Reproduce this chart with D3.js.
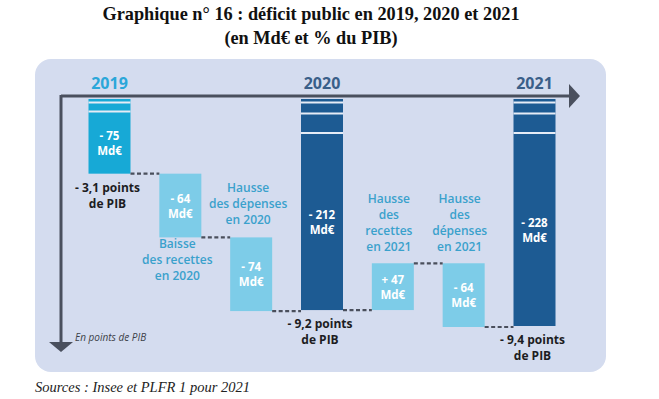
<!DOCTYPE html>
<html><head><meta charset="utf-8">
<script src="https://cdn.jsdelivr.net/npm/d3@7"></script>
<style>
html,body{margin:0;padding:0;background:#fff;}
svg{display:block;}
</style></head>
<body>
<svg id="c" width="659" height="399"></svg>
<script>
// ---- data ----
const categories = ["2019", "Baisse recettes 2020", "Hausse dépenses 2020", "2020", "Hausse recettes 2021", "Hausse dépenses 2021", "2021"];
const kinds = ["total", "step", "step", "total", "step", "step", "total"];
const values = [-75, -64, -74, -212, 47, -64, -228]; // Md€
const valueLabels = ["- 75", "- 64", "- 74", "- 212", "+ 47", "- 64", "- 228"];
const years = ["2019", "", "", "2020", "", "", "2021"];
const pibLabels = [["- 3,1 points", "de PIB"], null, null, ["- 9,2 points", "de PIB"], null, null, ["- 9,4 points", "de PIB"]];
const stepTexts = [
  { at: 1, lines: ["Baisse", "des recettes", "en 2020"] },
  { at: 2, lines: ["Hausse", "des dépenses", "en 2020"] },
  { at: 4, lines: ["Hausse", "des", "recettes", "en 2021"] },
  { at: 5, lines: ["Hausse", "des", "dépenses", "en 2021"] }
];
const title = ["Graphique n° 16 : déficit public en 2019, 2020 et 2021", "(en Md€ et % du PIB)"];
const source = "Sources : Insee et PLFR 1 pour 2021";
const axisNote = "En points de PIB";

// ---- compute waterfall ----
const bars = [];
let level = 0;
categories.forEach((c, i) => {
  if (kinds[i] === "total") {
    level = -values[i];
    bars.push({ i, c, y0: 0, y1: level, kind: "total" });
  } else {
    const prev = level;
    level = level - values[i];
    bars.push({ i, c, y0: Math.min(prev, level), y1: Math.max(prev, level), kind: "step", from: prev, to: level });
  }
});

const svg = d3.select("#c");
const sans = "'Open Sans', 'Noto Sans', sans-serif";
const serif = "'Liberation Serif', 'DejaVu Serif', serif";

// title
svg.selectAll("text.title").data(title).enter().append("text")
  .attr("x", 311).attr("y", (d, i) => 20 + i * 24)
  .attr("text-anchor", "middle").attr("font-family", serif)
  .attr("font-weight", "bold").attr("font-size", 18.3).attr("fill", "#111").text(d => d);

// panel
svg.append("rect").attr("x", 35).attr("y", 59).attr("width", 571).attr("height", 313)
  .attr("rx", 16).attr("fill", "#d4dcef");

// scales
const x = d3.scalePoint().domain(categories).range([109.5, 534.5]);
const y = d3.scaleLinear().domain([0, 228]).range([99, 326]);
const bw = 42;

const colorOf = (b) => b.kind === "step" ? "#7dcce8" : (b.i === 0 ? "#17a9d6" : "#1d5b93");

// bars
svg.selectAll("rect.bar").data(bars).enter().append("rect")
  .attr("x", d => x(d.c) - bw / 2).attr("width", bw)
  .attr("y", d => y(d.y0)).attr("height", d => y(d.y1) - y(d.y0))
  .attr("fill", colorOf);

// white stripes on total bars
bars.filter(b => b.kind === "total").forEach(b => {
  const offs = b.i === 0 ? [3.5, 12.5] : [3.5, 14.5, 34];
  offs.forEach(o => {
    svg.append("line").attr("x1", x(b.c) - bw / 2).attr("x2", x(b.c) + bw / 2)
      .attr("y1", y(0) + o).attr("y2", y(0) + o)
      .attr("stroke", "#e6ecf6").attr("stroke-width", 2);
  });
});

// connectors
for (let k = 0; k < bars.length - 1; k++) {
  const a = bars[k], b = bars[k + 1];
  const lv = a.kind === "total" ? a.y1 : a.to;
  svg.append("line")
    .attr("x1", x(a.c) + bw / 2).attr("x2", x(b.c) - bw / 2)
    .attr("y1", y(lv)).attr("y2", y(lv))
    .attr("stroke", "#4a4f5c").attr("stroke-width", 2.2).attr("stroke-dasharray", "4,2.5");
}

// axes (arrows)
const axisColor = "#4a505e";
svg.append("line").attr("x1", 61).attr("x2", 571).attr("y1", 96).attr("y2", 96)
  .attr("stroke", axisColor).attr("stroke-width", 3);
svg.append("path").attr("d", "M569,84 L580,96 L569,108 Z").attr("fill", axisColor);
svg.append("line").attr("x1", 61).attr("x2", 61).attr("y1", 95).attr("y2", 344)
  .attr("stroke", axisColor).attr("stroke-width", 3);
svg.append("path").attr("d", "M49,342 L61,352 L73,342 Z").attr("fill", axisColor);

svg.append("text").attr("x", 75).attr("y", 341).attr("font-family", sans)
  .attr("font-style", "italic").attr("font-size", 10).attr("fill", "#3c3f48").text(axisNote);

// year labels
svg.selectAll("text.year").data(bars.filter(b => years[b.i])).enter().append("text")
  .attr("x", d => x(d.c)).attr("y", 89).attr("text-anchor", "middle")
  .attr("font-family", sans).attr("font-weight", "bold").attr("font-size", 16)
  .attr("fill", d => d.i === 0 ? "#2ba7d9" : "#3a5f89").text(d => years[d.i]);

// value labels inside bars
bars.forEach(b => {
  let top = y(b.y0);
  const bot = y(b.y1);
  if (b.kind === "total") top += b.i === 0 ? 12.5 : 34;
  const cy = (top + bot) / 2;
  const g = svg.append("text").attr("text-anchor", "middle").attr("font-family", sans)
    .attr("font-weight", "bold").attr("font-size", 11.5).attr("fill", "#fff");
  g.append("tspan").attr("x", x(b.c)).attr("y", cy - 3).text(valueLabels[b.i]);
  g.append("tspan").attr("x", x(b.c)).attr("y", cy + 12).text("Md€");
});

// PIB labels below totals
bars.filter(b => pibLabels[b.i]).forEach(b => {
  const t = svg.append("text").attr("text-anchor", "middle").attr("font-family", sans)
    .attr("font-weight", "bold").attr("font-size", 12).attr("fill", "#1c1c22");
  pibLabels[b.i].forEach((l, j) => {
    t.append("tspan").attr("x", x(b.c) - 2).attr("y", y(b.y1) + 18 + j * 16).text(l);
  });
});

// step descriptions
stepTexts.forEach(s => {
  const b = bars[s.at];
  let cx, y0;
  if (s.at === 1) { cx = x(b.c) - 3; y0 = y(b.y1) + 11; }
  else if (s.at === 2) { cx = x(b.c) - 3; y0 = y(b.y0) - 45; }
  else { cx = x(b.c) - 4; y0 = y(b.y0) - 60; }
  const t = svg.append("text").attr("text-anchor", "middle").attr("font-family", sans)
    .attr("font-weight", 600).attr("font-size", 12).attr("fill", "#3aa1cc");
  s.lines.forEach((l, j) => {
    t.append("tspan").attr("x", cx).attr("y", y0 + j * 16).text(l);
  });
});

// source
svg.append("text").attr("x", 35).attr("y", 392).attr("font-family", serif)
  .attr("font-style", "italic").attr("font-size", 14.5).attr("fill", "#222").text(source);
</script>
</body></html>
